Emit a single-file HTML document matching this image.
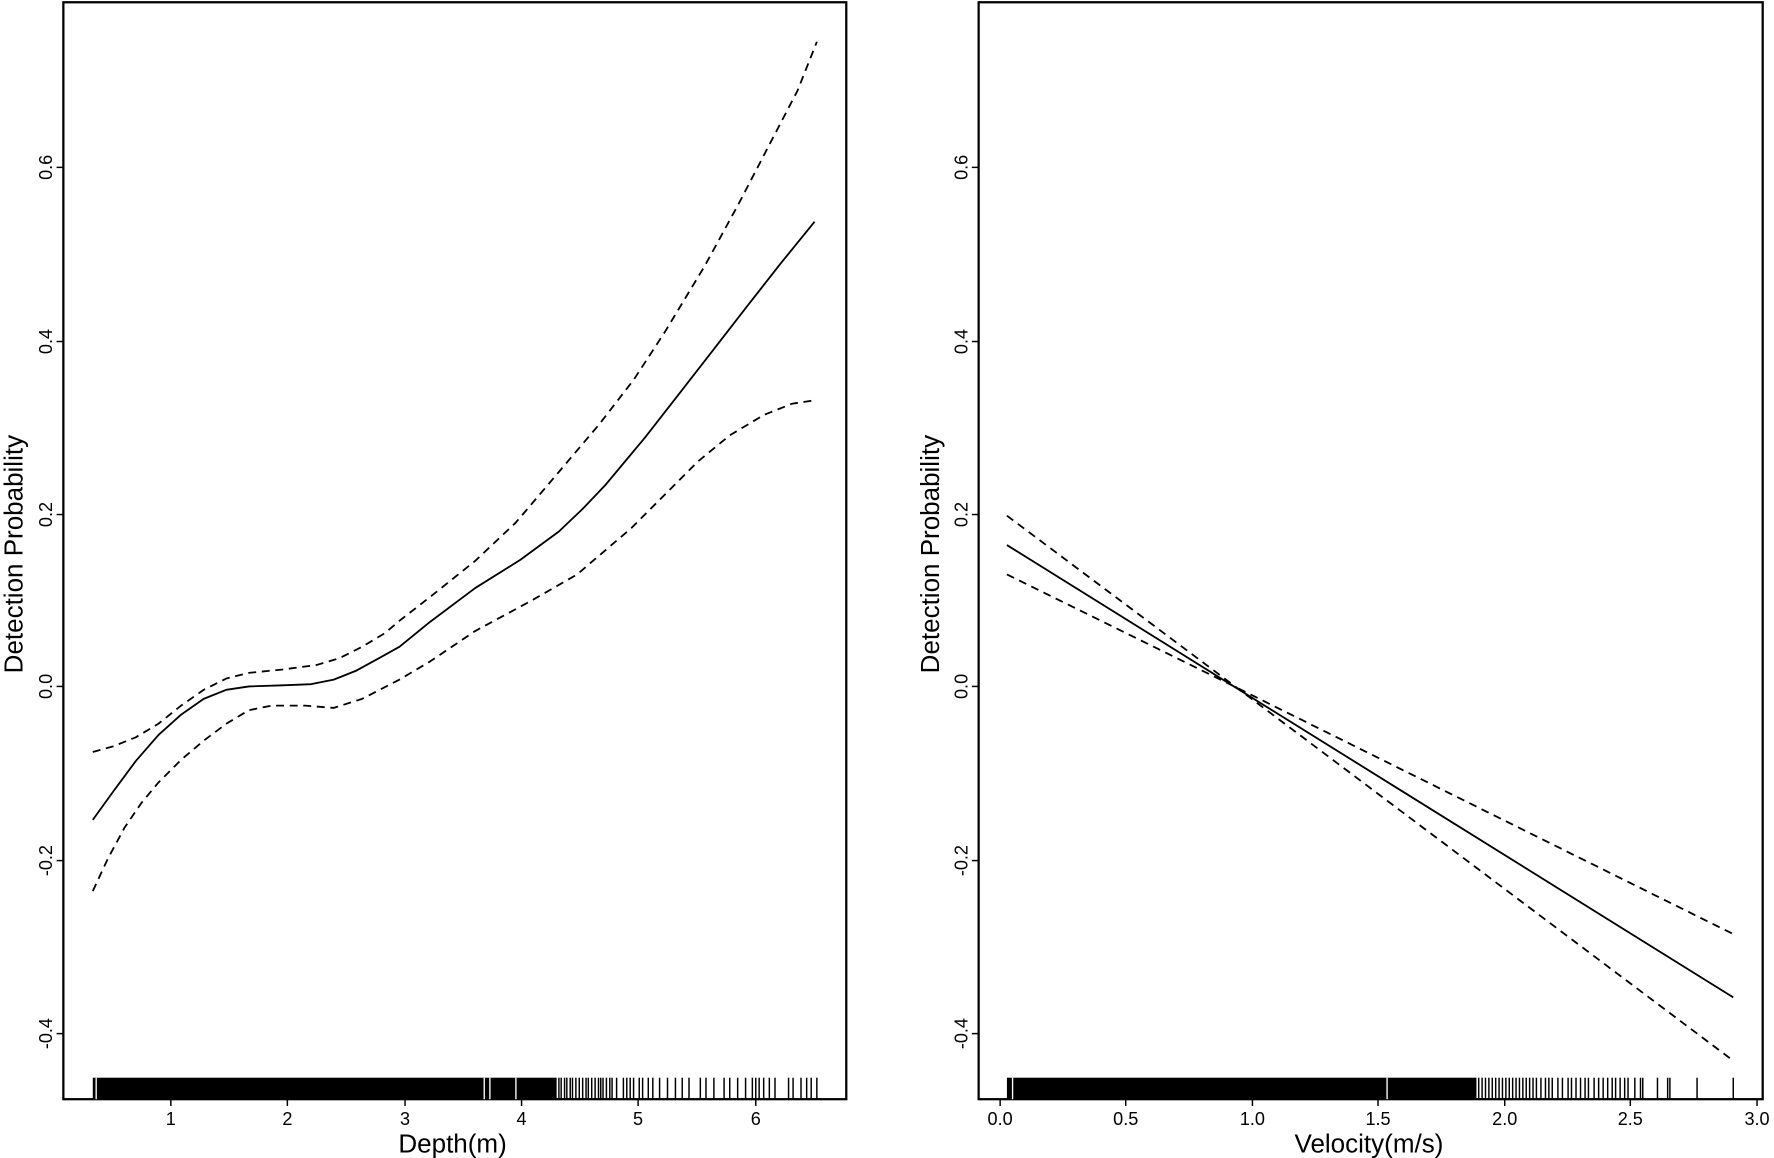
<!DOCTYPE html>
<html><head><style>html,body{margin:0;padding:0;background:#fff}svg{display:block}</style></head><body>
<svg width="1774" height="1158" viewBox="0 0 1568 1024" preserveAspectRatio="none" xmlns="http://www.w3.org/2000/svg" font-family="Liberation Sans, sans-serif">
<rect width="1568" height="1024" fill="#fff"/>
<g fill="none" stroke="#000" stroke-width="2">
<rect x="56" y="2" width="692" height="970"/>
<rect x="865" y="2" width="693" height="970"/>
</g>
<g stroke="#000" stroke-width="1.3">
<line x1="50" y1="148" x2="56" y2="148"/><line x1="50" y1="302" x2="56" y2="302"/><line x1="50" y1="455" x2="56" y2="455"/><line x1="50" y1="607" x2="56" y2="607"/><line x1="50" y1="761" x2="56" y2="761"/><line x1="50" y1="914" x2="56" y2="914"/>
<line x1="859" y1="148" x2="865" y2="148"/><line x1="859" y1="302" x2="865" y2="302"/><line x1="859" y1="455" x2="865" y2="455"/><line x1="859" y1="607" x2="865" y2="607"/><line x1="859" y1="761" x2="865" y2="761"/><line x1="859" y1="914" x2="865" y2="914"/>
<line x1="151" y1="972" x2="151" y2="978"/><line x1="254" y1="972" x2="254" y2="978"/><line x1="358" y1="972" x2="358" y2="978"/><line x1="461" y1="972" x2="461" y2="978"/><line x1="564" y1="972" x2="564" y2="978"/><line x1="668" y1="972" x2="668" y2="978"/>
<line x1="884" y1="972" x2="884" y2="978"/><line x1="995" y1="972" x2="995" y2="978"/><line x1="1107" y1="972" x2="1107" y2="978"/><line x1="1218" y1="972" x2="1218" y2="978"/><line x1="1330" y1="972" x2="1330" y2="978"/><line x1="1441" y1="972" x2="1441" y2="978"/><line x1="1553" y1="972" x2="1553" y2="978"/>
</g>
<g font-size="16" text-anchor="middle" fill="#000">
<text transform="translate(46,148) rotate(-90)">0.6</text><text transform="translate(46,302) rotate(-90)">0.4</text><text transform="translate(46,455) rotate(-90)">0.2</text><text transform="translate(46,607) rotate(-90)">0.0</text><text transform="translate(46,761) rotate(-90)">-0.2</text><text transform="translate(46,914) rotate(-90)">-0.4</text>
<text transform="translate(855,148) rotate(-90)">0.6</text><text transform="translate(855,302) rotate(-90)">0.4</text><text transform="translate(855,455) rotate(-90)">0.2</text><text transform="translate(855,607) rotate(-90)">0.0</text><text transform="translate(855,761) rotate(-90)">-0.2</text><text transform="translate(855,914) rotate(-90)">-0.4</text>
<text x="151" y="995">1</text><text x="254" y="995">2</text><text x="358" y="995">3</text><text x="461" y="995">4</text><text x="564" y="995">5</text><text x="668" y="995">6</text>
<text x="884" y="995">0.0</text><text x="995" y="995">0.5</text><text x="1107" y="995">1.0</text><text x="1218" y="995">1.5</text><text x="1330" y="995">2.0</text><text x="1441" y="995">2.5</text><text x="1553" y="995">3.0</text>
</g>
<g font-size="23" text-anchor="middle" fill="#000">
<text x="400" y="1019">Depth(m)</text>
<text x="1210" y="1019">Velocity(m/s)</text>
<text transform="translate(20,490) rotate(-90)">Detection Probability</text>
<text transform="translate(830,490) rotate(-90)">Detection Probability</text>
</g>
<g fill="none" stroke="#000" stroke-width="1.6" stroke-linejoin="round">
<polyline points="82,725 100,700 120,673 140,650 160,632 180,618 200,610 220,607 250,606 275,605 295,601 315,593 335,582 353,572 380,550 420,520 460,495 494,470 515,450 535,429 570,387 602,346 630,310 661,270 690,233 720,196"/>
<polyline stroke-dasharray="7,5" points="82,665 100,660 120,652 140,640 160,624 180,610 200,600 220,595 250,592 280,588 300,582 320,572 340,560 353,549 380,528 420,496 456,462 490,422 529,376 560,336 588,293 623,235 653,180 680,128 705,80 722,37"/>
<polyline stroke-dasharray="7,5" points="82,788 95,760 110,732 125,710 140,692 160,672 180,655 200,640 220,628 240,624 270,624 295,626 320,618 353,601 380,585 420,558 470,531 510,508 558,467 590,435 617,408 645,385 675,367 700,357 720,354"/>
<polyline points="890,482 1532,882"/>
<polyline stroke-dasharray="7,5" points="890,456 1093,608 1532,938"/>
<polyline stroke-dasharray="7,5" points="890,508 1093,608 1532,826"/>
</g>
<rect x="82" y="953" width="410" height="19" fill="#000"/>
<rect x="890" y="953" width="415" height="19" fill="#000"/>
<g stroke="#fff" stroke-width="1.2">
<line x1="85" y1="953" x2="85" y2="972"/><line x1="428" y1="953" x2="428" y2="972"/><line x1="433" y1="953" x2="433" y2="972"/><line x1="456" y1="953" x2="456" y2="972"/>
<line x1="895" y1="953" x2="895" y2="972"/><line x1="1226" y1="953" x2="1226" y2="972"/>
</g>
<g stroke="#000" stroke-width="1.3">
<line x1="494" y1="953" x2="494" y2="972"/><line x1="496" y1="953" x2="496" y2="972"/><line x1="499" y1="953" x2="499" y2="972"/><line x1="501" y1="953" x2="501" y2="972"/><line x1="504" y1="953" x2="504" y2="972"/><line x1="506" y1="953" x2="506" y2="972"/><line x1="509" y1="953" x2="509" y2="972"/><line x1="512" y1="953" x2="512" y2="972"/><line x1="515" y1="953" x2="515" y2="972"/><line x1="518" y1="953" x2="518" y2="972"/><line x1="520" y1="953" x2="520" y2="972"/><line x1="523" y1="953" x2="523" y2="972"/><line x1="526" y1="953" x2="526" y2="972"/><line x1="529" y1="953" x2="529" y2="972"/><line x1="531" y1="953" x2="531" y2="972"/><line x1="533" y1="953" x2="533" y2="972"/><line x1="536" y1="953" x2="536" y2="972"/><line x1="539" y1="953" x2="539" y2="972"/><line x1="541" y1="953" x2="541" y2="972"/>
<line x1="545" y1="953" x2="545" y2="972"/><line x1="551" y1="953" x2="551" y2="972"/><line x1="554" y1="953" x2="554" y2="972"/><line x1="557" y1="953" x2="557" y2="972"/><line x1="560" y1="953" x2="560" y2="972"/><line x1="565" y1="953" x2="565" y2="972"/><line x1="568" y1="953" x2="568" y2="972"/><line x1="573" y1="953" x2="573" y2="972"/><line x1="577" y1="953" x2="577" y2="972"/><line x1="583" y1="953" x2="583" y2="972"/><line x1="590" y1="953" x2="590" y2="972"/><line x1="597" y1="953" x2="597" y2="972"/><line x1="603" y1="953" x2="603" y2="972"/><line x1="609" y1="953" x2="609" y2="972"/><line x1="619" y1="953" x2="619" y2="972"/><line x1="624" y1="953" x2="624" y2="972"/><line x1="631" y1="953" x2="631" y2="972"/><line x1="640" y1="953" x2="640" y2="972"/><line x1="645" y1="953" x2="645" y2="972"/><line x1="652" y1="953" x2="652" y2="972"/><line x1="659" y1="953" x2="659" y2="972"/><line x1="665" y1="953" x2="665" y2="972"/><line x1="668" y1="953" x2="668" y2="972"/><line x1="671" y1="953" x2="671" y2="972"/><line x1="675" y1="953" x2="675" y2="972"/><line x1="680" y1="953" x2="680" y2="972"/><line x1="685" y1="953" x2="685" y2="972"/><line x1="697" y1="953" x2="697" y2="972"/><line x1="701" y1="953" x2="701" y2="972"/><line x1="708" y1="953" x2="708" y2="972"/><line x1="713" y1="953" x2="713" y2="972"/><line x1="717" y1="953" x2="717" y2="972"/><line x1="722" y1="953" x2="722" y2="972"/>
<line x1="1307" y1="953" x2="1307" y2="972"/><line x1="1310" y1="953" x2="1310" y2="972"/><line x1="1313" y1="953" x2="1313" y2="972"/><line x1="1316" y1="953" x2="1316" y2="972"/><line x1="1319" y1="953" x2="1319" y2="972"/><line x1="1322" y1="953" x2="1322" y2="972"/><line x1="1325" y1="953" x2="1325" y2="972"/><line x1="1328" y1="953" x2="1328" y2="972"/><line x1="1331" y1="953" x2="1331" y2="972"/><line x1="1334" y1="953" x2="1334" y2="972"/><line x1="1337" y1="953" x2="1337" y2="972"/><line x1="1340" y1="953" x2="1340" y2="972"/><line x1="1343" y1="953" x2="1343" y2="972"/><line x1="1346" y1="953" x2="1346" y2="972"/><line x1="1349" y1="953" x2="1349" y2="972"/><line x1="1352" y1="953" x2="1352" y2="972"/><line x1="1355" y1="953" x2="1355" y2="972"/><line x1="1358" y1="953" x2="1358" y2="972"/><line x1="1362" y1="953" x2="1362" y2="972"/><line x1="1366" y1="953" x2="1366" y2="972"/><line x1="1369" y1="953" x2="1369" y2="972"/><line x1="1372" y1="953" x2="1372" y2="972"/><line x1="1377" y1="953" x2="1377" y2="972"/><line x1="1381" y1="953" x2="1381" y2="972"/><line x1="1386" y1="953" x2="1386" y2="972"/><line x1="1389" y1="953" x2="1389" y2="972"/><line x1="1393" y1="953" x2="1393" y2="972"/><line x1="1397" y1="953" x2="1397" y2="972"/><line x1="1401" y1="953" x2="1401" y2="972"/><line x1="1404" y1="953" x2="1404" y2="972"/><line x1="1409" y1="953" x2="1409" y2="972"/><line x1="1413" y1="953" x2="1413" y2="972"/><line x1="1417" y1="953" x2="1417" y2="972"/><line x1="1421" y1="953" x2="1421" y2="972"/><line x1="1425" y1="953" x2="1425" y2="972"/><line x1="1428" y1="953" x2="1428" y2="972"/><line x1="1432" y1="953" x2="1432" y2="972"/><line x1="1436" y1="953" x2="1436" y2="972"/><line x1="1439" y1="953" x2="1439" y2="972"/><line x1="1445" y1="953" x2="1445" y2="972"/><line x1="1450" y1="953" x2="1450" y2="972"/><line x1="1452" y1="953" x2="1452" y2="972"/><line x1="1465" y1="953" x2="1465" y2="972"/><line x1="1474" y1="953" x2="1474" y2="972"/><line x1="1476" y1="953" x2="1476" y2="972"/><line x1="1500" y1="953" x2="1500" y2="972"/><line x1="1532" y1="953" x2="1532" y2="972"/>
</g>
</svg>
</body></html>
